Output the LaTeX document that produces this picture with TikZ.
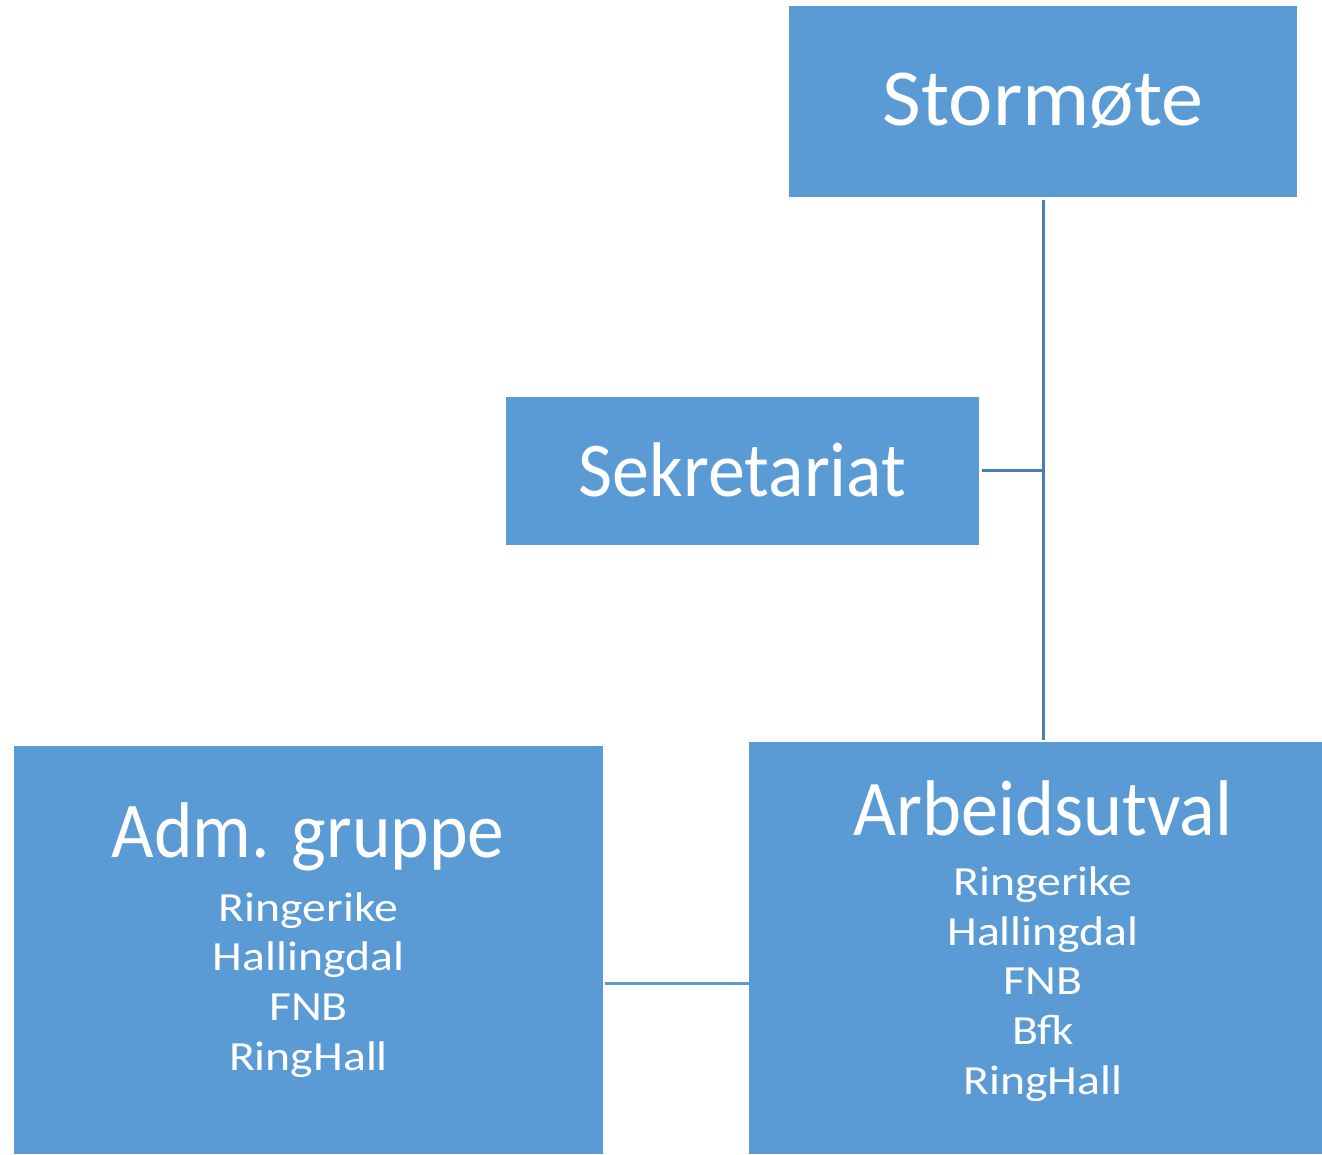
\documentclass[tikz,border=0pt]{standalone}
\usepackage{fontspec}
\usepackage{graphicx}
\setmainfont{Carlito}
\definecolor{boxblue}{HTML}{5B9BD5}
\definecolor{linedark}{HTML}{4A7EBB}
\newcommand\hstretch[2]{\scalebox{#1}[1]{#2}}
\begin{document}
\begin{tikzpicture}[x=1pt,y=-1pt,
  orgbox/.style={draw=none,fill=boxblue,rectangle,inner sep=0pt,outer sep=0pt},
  bigtxt/.style={text=white,anchor=base,inner sep=0pt,font=\fontsize{79}{90}\selectfont},
  smalltxt/.style={text=white,anchor=base,inner sep=0pt,font=\fontsize{41.5}{50}\selectfont},
  darkline/.style={draw=linedark,line width=3pt},
  lightline/.style={draw=boxblue,line width=3pt}]
\useasboundingbox (0,0) rectangle (1322,1154);
% boxes
\node[orgbox,minimum width=508pt,minimum height=191pt] (stor) at (1043,101.5) {};
\node[orgbox,minimum width=473pt,minimum height=148pt] (sek) at (742.5,471) {};
\node[orgbox,minimum width=589pt,minimum height=408pt] (adm) at (308.5,950) {};
\node[orgbox,minimum width=573pt,minimum height=412pt] (arb) at (1035.5,948) {};
% texts
\node[bigtxt,font=\fontsize{81}{90}\selectfont] (tstor) at (1043,125.5) {\hstretch{1.04}{Stormøte}};
\node[bigtxt,font=\fontsize{77.5}{90}\selectfont] (tsek) at (742.5,496) {\hstretch{0.955}{Sekretariat}};
\node[bigtxt] (tadm) at (308,857) {\hstretch{0.93}{Adm. gruppe}};
\node[smalltxt] (a1) at (308.5,921) {\hstretch{1.15}{Ringerike}};
\node[smalltxt] (a2) at (308.5,970) {\hstretch{1.15}{Hallingdal}};
\node[smalltxt] (a3) at (308.5,1020) {\hstretch{1.15}{FNB}};
\node[smalltxt] (a4) at (308.5,1070) {\hstretch{1.15}{RingHall}};
\node[bigtxt] (tarb) at (1043,835) {\hstretch{0.94}{Arbeidsutval}};
\node[smalltxt] (b1) at (1043,895) {\hstretch{1.15}{Ringerike}};
\node[smalltxt] (b2) at (1043,945) {\hstretch{1.15}{Hallingdal}};
\node[smalltxt] (b3) at (1043,994) {\hstretch{1.15}{FNB}};
\node[smalltxt] (b4) at (1043,1044) {\hstretch{1.15}{Bfk}};
\node[smalltxt] (b5) at (1043,1094) {\hstretch{1.15}{RingHall}};
% connectors
\coordinate (top) at (1043,200);
\coordinate (bot) at (1043,740);
\coordinate (junc) at (1043,470.5);
\coordinate (sekr) at (982,470.5);
\coordinate (mid) at (676,983.5);
\draw[darkline] (top) -- (bot);
\draw[darkline] (sekr) -- (junc);
\draw[lightline] (mid -| adm.east) ++(2,0) -- (mid -| arb.west);
\end{tikzpicture}
\end{document}
